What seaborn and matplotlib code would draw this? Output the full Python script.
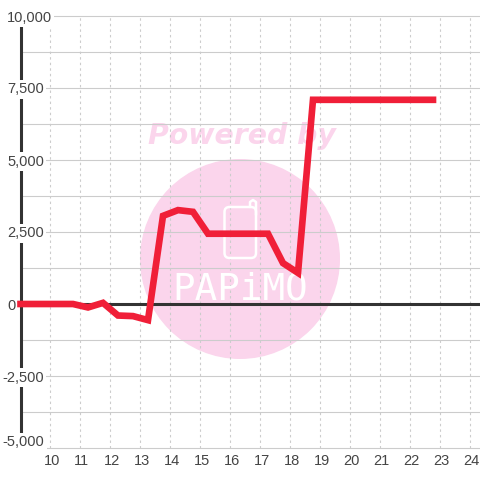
import matplotlib
matplotlib.use("Agg")
import matplotlib.pyplot as plt
from matplotlib.patches import Circle, FancyBboxPatch
from matplotlib.lines import Line2D
from matplotlib.transforms import Affine2D, ScaledTranslation
import pandas as pd
import seaborn as sns

hours = [9.0, 9.75, 10.25, 10.75, 11.25, 11.75, 12.25, 12.75, 13.25, 13.75, 14.25, 14.75,
         15.25, 15.75, 16.25, 16.75, 17.25, 17.75, 18.25, 18.75, 19.25, 19.75, 20.25, 20.75,
         21.25, 21.75, 22.25, 22.75]
values = [0, 0, 0, 0, -120, 40, -400, -420, -560, 3060, 3260, 3200,
          2440, 2440, 2440, 2440, 2440, 1420, 1080, 7090, 7090, 7090, 7090, 7090,
          7090, 7090, 7090, 7090]
x_ticks = list(range(10, 25))
y_ticks = [-5000, -2500, 0, 2500, 5000, 7500, 10000]
y_grid = [-5000, -3750, -2500, -1250, 0, 1250, 2500, 3750, 5000, 6250, 7500, 8750, 10000]
y_labels = ["-5,000", "-2,500", "0", "2,500", "5,000", "7,500", "10,000"]

RED = "#F01F38"
DARK = "#333333"
PINK = "#FBD5EC"

sns.set_theme(style="white")
plt.rcParams["font.family"] = ["Liberation Sans", "DejaVu Sans"]

fig = plt.figure(figsize=(4.8, 4.8), dpi=100, facecolor="white")
ax = fig.add_axes([20.5 / 480, 32 / 480, 459.5 / 480, 432 / 480])
ax.set_facecolor("white")

px = lambda x, y: (x / 480, 1 - y / 480)

# watermark, placed in figure pixels (y measured from the top)
tf = Affine2D().scale(1, -1).translate(0, 480)
ax.add_artist(Circle((240, 259), 100, transform=tf, fc=PINK, ec="none", zorder=0.2))
ax.text(*px(242, 136), "Powered by", transform=fig.transFigure, ha="center", va="center",
        fontsize=20.4, fontweight="bold", fontstyle="italic", color=PINK, zorder=0.2,
        family="DejaVu Sans")

# grid
ax.hlines(y_grid, 9, 24.32, colors="#CCCCCC", lw=0.8, zorder=0.5, clip_on=False)
ax.vlines(x_ticks, -5000, 10000, colors="#CCCCCC", lw=0.8, linestyles=(0, (2.2, 2.8)), zorder=0.5, clip_on=False)

# watermark foreground
ax.add_artist(FancyBboxPatch((224.5, 207), 31.5, 51, boxstyle="round,pad=0,rounding_size=5", transform=tf,
                             fc="none", ec="white", lw=1.8, zorder=0.8))
ax.add_artist(Line2D([250, 250, 253, 256, 256], [207, 202, 200, 202, 215], transform=tf,
                     color="white", lw=1.8, zorder=0.8))
ax.text(*px(240, 290), "PAPiMO", transform=fig.transFigure, ha="center", va="center",
        fontsize=27, color="white", family="DejaVu Sans Mono", zorder=0.8)

ax.axhline(0, color=DARK, lw=2.2, zorder=1)

df = pd.DataFrame({"hour": hours, "value": values})
sns.lineplot(data=df, x="hour", y="value", ax=ax, color=RED, lw=4.8, errorbar=None, zorder=4,
             clip_on=False, solid_joinstyle="miter", solid_capstyle="projecting")

ax.set_xlim(9, 24.317)
ax.set_ylim(-5000, 10000)
ax.set_xticks(x_ticks)
ax.set_yticks(y_ticks)
ax.set_yticklabels(y_labels)
ax.set_xlabel("")
ax.set_ylabel("")
ax.grid(False)
ax.tick_params(axis="both", length=0, labelsize=10.5, labelcolor="#444444")
ax.tick_params(axis="y", pad=9.5)
ax.tick_params(axis="x", pad=4.5)
for lab in ax.get_xticklabels():
    lab.set_transform(lab.get_transform() + ScaledTranslation(1.2 / 100, 0, fig.dpi_scale_trans))
for lab, val in zip(ax.get_yticklabels(), y_ticks):
    lab.set_horizontalalignment("left")
    lab.set_bbox(dict(fc="white", ec="none", pad=1.5))
    dx = -4.5 / 100 if val < 0 else 0
    dy = 7 / 100 if val == -5000 else 0
    lab.set_transform(lab.get_transform() + ScaledTranslation(dx, dy, fig.dpi_scale_trans))
ax.yaxis.set_zorder(2.6)
for side in ("top", "right", "bottom"):
    ax.spines[side].set_visible(False)
ax.spines["left"].set_color(DARK)
ax.spines["left"].set_linewidth(2.2)
ax.spines["left"].set_zorder(2)

fig.savefig("out.png", dpi=100, facecolor="white")
